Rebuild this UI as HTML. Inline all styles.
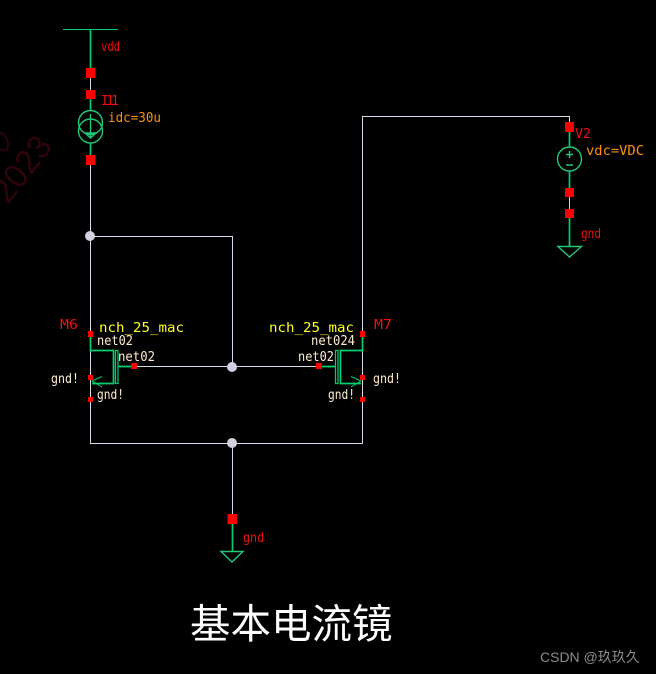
<!DOCTYPE html>
<html><head><meta charset="utf-8">
<style>
html,body{margin:0;padding:0;background:#000;width:656px;height:674px;overflow:hidden}
svg{display:block}
.w{stroke:#d8d8e8;stroke-width:1;fill:none}
.g{stroke:#00d070;stroke-width:1.7;fill:none}
.t{stroke:#00d070;stroke-width:1;fill:none}
.s{stroke:#22c878;stroke-width:1.4;fill:none}
.r{fill:#ff0000}
text{font-family:"DejaVu Sans Mono","Liberation Mono",monospace;font-size:13px}
.rt{fill:#f01010}.ot{fill:#ff9010;font-size:13.5px}.yt{fill:#ffff20}.ct{fill:#ffeccc}
</style></head><body>
<svg width="656" height="674" viewBox="0 0 656 674" xmlns="http://www.w3.org/2000/svg">
<rect width="656" height="674" fill="#000"/>
<!-- watermark -->
<g transform="translate(8,205) rotate(-52)"><text x="0" y="0" fill="#2e040a" style="font-family:'Liberation Sans',sans-serif;font-size:34px" textLength="74" lengthAdjust="spacingAndGlyphs">2023</text></g>
<path d="M0,132 C7,135 10,146 7,149 C5,151 2,150 0,149" fill="none" stroke="#2e040a" stroke-width="2"/>

<!-- white wires -->
<path class="w" d="M90.500,78V90M90.500,165V443.500H362.500V116.500H569.500V122M90.500,236.500H232.500V367M137,366.500H316M232.500,443V514M569.500,197V209"/>

<!-- vdd -->
<path class="t" d="M63,29.500H118"/>
<path class="g" d="M90.500,29V68M90.500,99V110M90.500,143V155"/>
<rect class="r" x="86" y="68" width="9.500" height="10"/>
<rect class="r" x="86" y="90" width="9.500" height="9"/>
<rect class="r" x="86" y="155" width="9.500" height="10"/>
<circle class="s" cx="90.500" cy="122.500" r="12"/>
<circle class="s" cx="90.500" cy="131" r="12"/>
<path class="s" d="M90.500,114V137M85,133H96L90.500,138Z"/>
<text class="rt" x="101" y="51" textLength="19" lengthAdjust="spacingAndGlyphs">vdd</text>
<text class="rt" x="101" y="105" textLength="18">I11</text>
<text class="ot" x="108" y="122" textLength="53" lengthAdjust="spacingAndGlyphs">idc=30u</text>

<!-- M6 -->
<path class="g" d="M90.500,337V350.500H113.500V383.500H92M118,366.500H131"/>
<path class="t" d="M92,381L102,376.500M92,381L102,387"/>
<rect x="115.500" y="350.500" width="2.500" height="33" fill="none" stroke="#00d070" stroke-width="1.200"/>
<rect class="r" x="88" y="331" width="5" height="6"/>
<rect class="r" x="88" y="375" width="5" height="5"/>
<rect class="r" x="88" y="397" width="5" height="5"/>
<rect class="r" x="131" y="363" width="6" height="6"/>
<text class="rt" x="60" y="329" textLength="18" lengthAdjust="spacingAndGlyphs">M6</text>
<text class="yt" x="99" y="332" textLength="85" lengthAdjust="spacingAndGlyphs">nch_25_mac</text>
<text class="ct" x="97" y="345" textLength="36" lengthAdjust="spacingAndGlyphs">net02</text>
<text class="ct" x="118" y="361" textLength="37" lengthAdjust="spacingAndGlyphs">net02</text>
<text class="ct" x="51" y="383" textLength="28" lengthAdjust="spacingAndGlyphs">gnd!</text>
<text class="ct" x="97" y="399" textLength="27" lengthAdjust="spacingAndGlyphs">gnd!</text>

<!-- M7 -->
<path class="g" d="M362.500,337V350.500H340.500V383.500H361M322,366.500H335"/>
<path class="t" d="M361,381L351,376.500M361,381L351,387"/>
<rect x="335.500" y="350.500" width="2.500" height="33" fill="none" stroke="#00d070" stroke-width="1.200"/>
<rect class="r" x="360" y="331" width="5" height="6"/>
<rect class="r" x="360" y="375" width="5" height="5"/>
<rect class="r" x="360" y="397" width="5" height="5"/>
<rect class="r" x="316" y="363" width="6" height="6"/>
<text class="rt" x="374" y="329" textLength="18" lengthAdjust="spacingAndGlyphs">M7</text>
<text class="yt" x="269" y="332" textLength="85" lengthAdjust="spacingAndGlyphs">nch_25_mac</text>
<text class="ct" x="311" y="345" textLength="44" lengthAdjust="spacingAndGlyphs">net024</text>
<text class="ct" x="298" y="361" textLength="36" lengthAdjust="spacingAndGlyphs">net02</text>
<text class="ct" x="373" y="383" textLength="28" lengthAdjust="spacingAndGlyphs">gnd!</text>
<text class="ct" x="328" y="399" textLength="27" lengthAdjust="spacingAndGlyphs">gnd!</text>

<!-- junctions -->
<circle cx="90" cy="236" r="5" fill="#d0d0e0"/>
<circle cx="232" cy="367" r="5" fill="#d0d0e0"/>
<circle cx="232" cy="443" r="5" fill="#d0d0e0"/>

<!-- V2 -->
<path class="g" d="M569.500,132V147M569.500,171V188M569.500,218V246"/>
<rect class="r" x="565" y="122" width="9" height="10"/>
<rect class="r" x="565" y="188" width="9" height="9"/>
<rect class="r" x="565" y="209" width="9" height="9"/>
<circle class="s" cx="569.500" cy="159" r="12"/>
<path class="s" d="M566,154.500H573M569.500,151V158M566,165H573"/>
<path class="s" d="M558,246.500H581.500L569.500,257Z"/>
<text class="rt" x="575" y="138" textLength="16" lengthAdjust="spacingAndGlyphs">V2</text>
<text class="ot" x="586" y="155" textLength="58" lengthAdjust="spacingAndGlyphs">vdc=VDC</text>
<text class="rt" x="581" y="238" textLength="20" lengthAdjust="spacingAndGlyphs">gnd</text>

<!-- bottom gnd -->
<path class="g" d="M232.500,524V551"/>
<rect class="r" x="227.500" y="514" width="9.500" height="10"/>
<path class="s" d="M221,551.500H243L232,562Z"/>
<text class="rt" x="243" y="542" textLength="21" lengthAdjust="spacingAndGlyphs">gnd</text>

<!-- captions -->
<text x="190" y="638" fill="#fff" style="font-family:'Noto Sans CJK SC',sans-serif;font-size:40.500px">基本电流镜</text>
<text x="540" y="662" fill="#8c8c8c" style="font-family:'Liberation Sans','Noto Sans CJK SC',sans-serif;font-size:14px">CSDN @玖玖久</text>
</svg>
</body></html>
